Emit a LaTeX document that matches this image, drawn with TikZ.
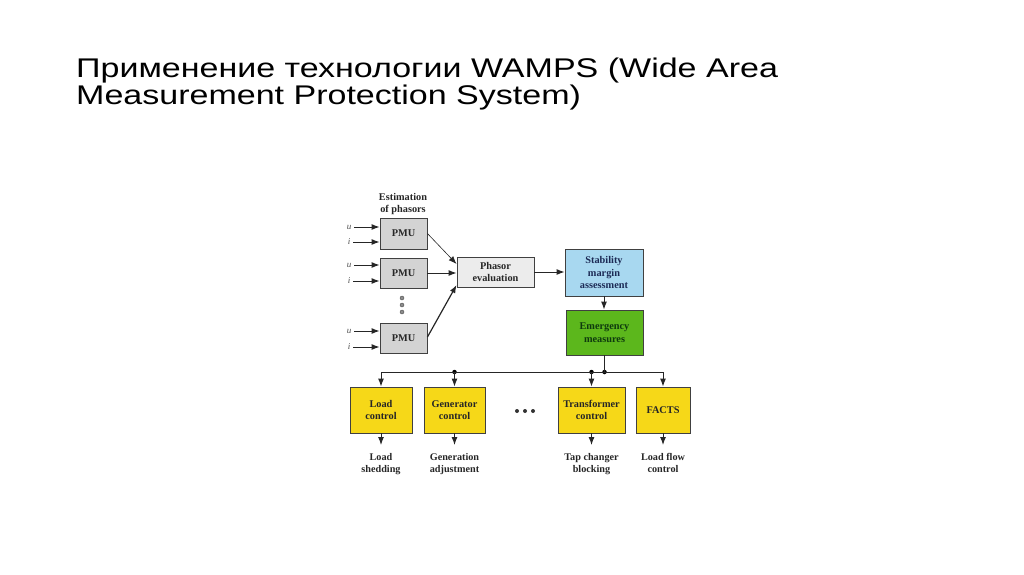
\documentclass[tikz,border=0pt]{standalone}
\usepackage{fontspec}
\setmainfont{Liberation Serif}
\newfontfamily\titlefont[FakeStretch=1.26]{Liberation Sans}
\usetikzlibrary{arrows.meta}
\definecolor{pmugray}{HTML}{D3D3D3}
\definecolor{evalgray}{HTML}{ECECEC}
\definecolor{stabblue}{HTML}{A8D8F0}
\definecolor{emgreen}{HTML}{5CB71C}
\definecolor{ctrlyellow}{HTML}{F6D818}
\definecolor{inkblue}{HTML}{1C2A55}
\definecolor{inkgreen}{HTML}{0E3A0E}

\begin{document}
\begin{tikzpicture}[x=1pt,y=-1pt,>={Latex[length=8pt,width=6pt]},
   blk/.style={draw=black!75,line width=0.9pt,inner sep=0pt,align=center,
      font=\fontsize{10.3}{12.5}\selectfont\bfseries,text=black!85},
   txt/.style={inner sep=0pt,align=center,font=\fontsize{10.3}{12.8}\selectfont\bfseries,text=black!85},
   sig/.style={inner xsep=3pt,inner ysep=0pt,font=\fontsize{9}{10}\selectfont\itshape,text=black!70},
   res/.style={anchor=north,inner xsep=0pt,inner ysep=8pt,align=center,
      font=\fontsize{10.2}{12.5}\selectfont\bfseries,text=black!85},
   wire/.style={line width=1pt,black!85},
   pt/.style={circle,fill=black,inner sep=0pt,minimum size=4.5pt},
   vdot/.style={circle,draw=black!70,fill=black!45,inner sep=0pt,minimum size=4pt}]
   \useasboundingbox (0,0) rectangle (1024,574);

   % title
   \draw (76,77) node[anchor=base west,inner sep=0pt,font=\titlefont\fontsize{27}{27}\selectfont] (title1) {Применение технологии WAMPS (Wide Area};
   \draw (76,104) node[anchor=base west,inner sep=0pt,font=\titlefont\fontsize{27}{27}\selectfont] (title2) {Measurement Protection System)};

   % phasor estimation
   \draw (403,204) node[txt] (est) {Estimation\\of phasors};
   \draw (403.5,233.5) node[blk,fill=pmugray,minimum width=47pt,minimum height=31pt] (pmu1) {PMU};
   \draw (403.5,273) node[blk,fill=pmugray,minimum width=47pt,minimum height=30pt] (pmu2) {PMU};
   \draw (403.5,338) node[blk,fill=pmugray,minimum width=47pt,minimum height=30pt] (pmu3) {PMU};
   \draw (402,298) node[vdot] (d1) {};
   \draw (402,305) node[vdot] (d2) {};
   \draw (402,312) node[vdot] (d3) {};

   \draw (349,227) node[sig] (u1) {u};
   \draw (349,242) node[sig] (i1) {i};
   \draw (349,265) node[sig] (u2) {u};
   \draw (349,281) node[sig] (i2) {i};
   \draw (349,331) node[sig] (u3) {u};
   \draw (349,347) node[sig] (i3) {i};

   \draw (495.5,272) node[blk,fill=evalgray,minimum width=77pt,minimum height=30pt] (eval) {Phasor\\evaluation};
   \draw (604,272.5) node[blk,fill=stabblue,text=inkblue,minimum width=78pt,minimum height=47pt] (stab) {Stability\\margin\\assessment};
   \draw (604.5,332.5) node[blk,fill=emgreen,text=inkgreen,minimum width=77pt,minimum height=45pt] (emerg) {Emergency\\measures};

   % actions
   \draw (381,410) node[blk,fill=ctrlyellow,minimum width=62pt,minimum height=46pt] (load) {Load\\control};
   \draw (454.5,410) node[blk,fill=ctrlyellow,minimum width=61pt,minimum height=46pt] (gen) {Generator\\control};
   \draw (591.5,410) node[blk,fill=ctrlyellow,minimum width=67pt,minimum height=46pt] (trafo) {Transformer\\control};
   \draw (663,410) node[blk,fill=ctrlyellow,minimum width=54pt,minimum height=46pt] (facts) {FACTS};
   \draw (517,411) node[pt,minimum size=4pt,fill=black!80] (h1) {};
   \draw (525,411) node[pt,minimum size=4pt,fill=black!80] (h2) {};
   \draw (533,411) node[pt,minimum size=4pt,fill=black!80] (h3) {};

   \draw (381,445) node[res] (shed) {Load\\shedding};
   \draw (454.5,445) node[res] (adj) {Generation\\adjustment};
   \draw (591.5,445) node[res] (block) {Tap changer\\blocking};
   \draw (663,445) node[res] (flow) {Load flow\\control};

   % bus
   \coordinate (busL) at (381,372);
   \coordinate (busR) at (663,372);
   \draw (454.5,372) node[pt] (jgen) {};
   \draw (591.5,372) node[pt] (jtrafo) {};
   \draw (604.5,372) node[pt] (jem) {};

   \foreach \n in {1,2,3}{
      \draw[wire,->] (u\n) -- (u\n -| pmu\n.west);
      \draw[wire,->] (i\n) -- (i\n -| pmu\n.west);
   }
   \draw[wire,->,line width=0.6pt] (pmu1.east) -- ([yshift=8pt]eval.west);
   \draw[wire,->] (pmu2.east) -- (pmu2.east -| eval.west);
   \draw[wire,->,line width=1.2pt] ([yshift=1pt]pmu3.east) -- ([yshift=-13pt]eval.west);
   \draw[wire,->] (eval.east) -- (eval.east -| stab.west);
   \draw[wire,->] (stab.south) -- (emerg.north -| stab.south);
   \draw[wire] (emerg.south) -- (jem.center);
   \draw[wire] (busL) -- (busR);
   \draw[wire,->] (busL) -- (load.north);
   \draw[wire,->] (jgen.center) -- (gen.north);
   \draw[wire,->] (jtrafo.center) -- (trafo.north);
   \draw[wire,->] (busR) -- (facts.north);
   \draw[wire,->] (load.south) -- (shed.north);
   \draw[wire,->] (gen.south) -- (adj.north);
   \draw[wire,->] (trafo.south) -- (block.north);
   \draw[wire,->] (facts.south) -- (flow.north);
\end{tikzpicture}
\end{document}
